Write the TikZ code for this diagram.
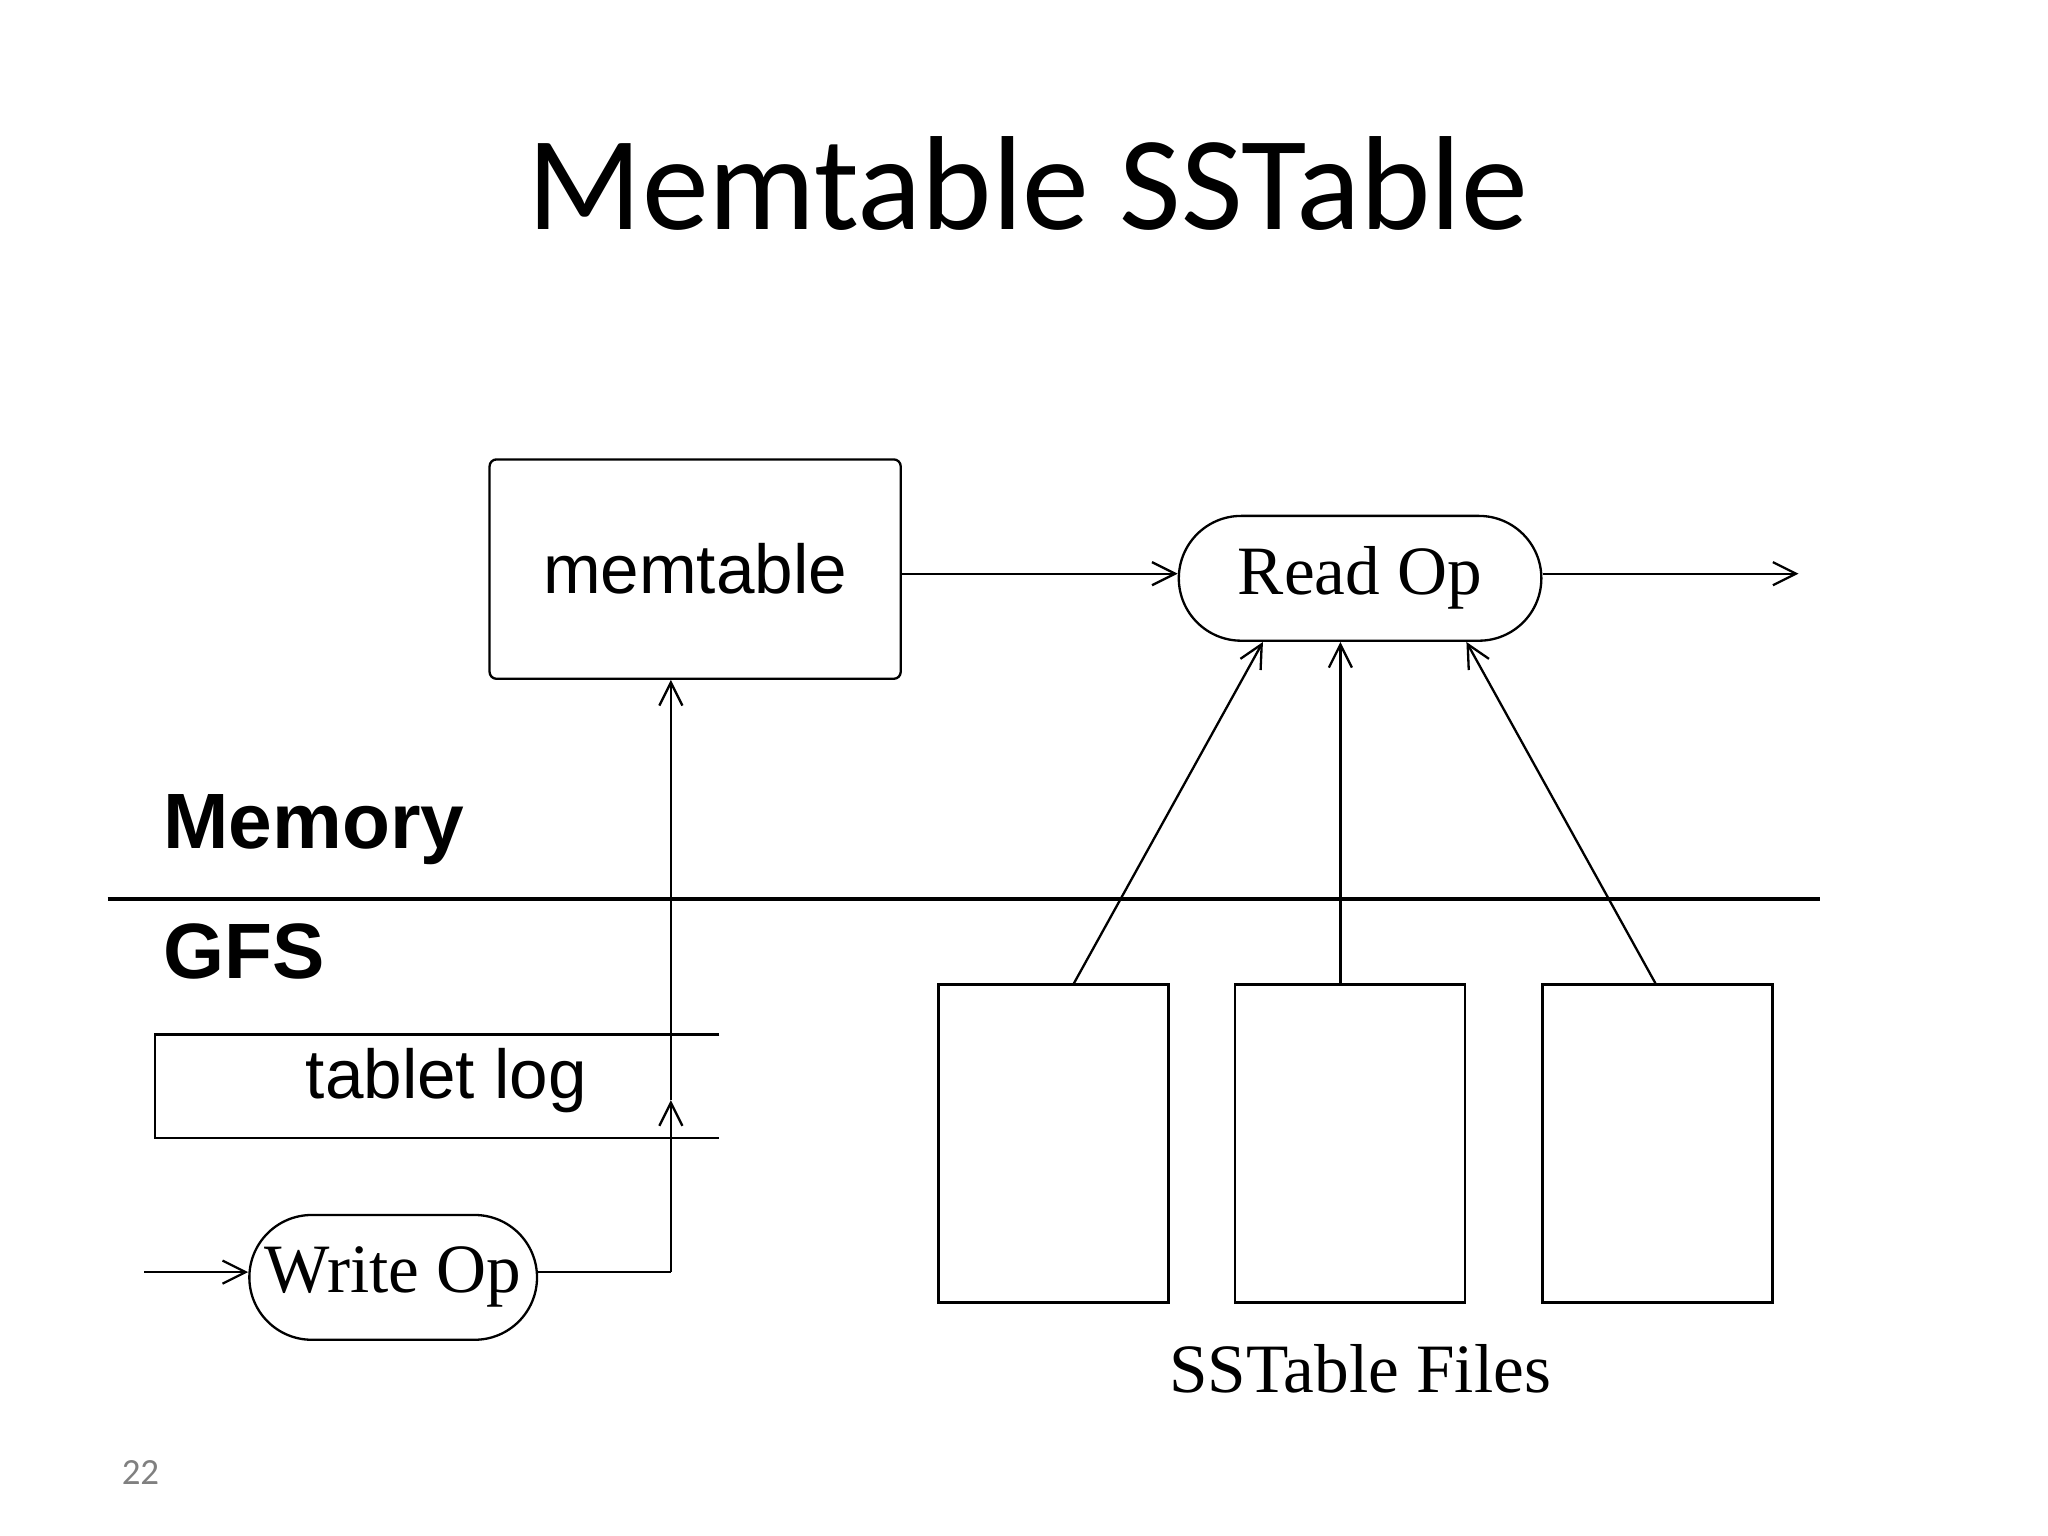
\documentclass[tikz,border=0pt]{standalone}
\usepackage{fontspec}
\setmainfont{Liberation Serif}
\newfontfamily\sansf{Liberation Sans}
\newfontfamily\calib{Carlito}
\usetikzlibrary{arrows.meta,shapes.misc}
\begin{document}
\begin{tikzpicture}[x=0.01cm,y=-0.01cm,
  ln/.style={line width=0.5pt},
  arr/.style={ln,-{Straight Barb[length=5pt,width=5pt,line width=0.5pt]}},
  pill/.style={ln,draw,rounded rectangle,minimum width=#1,minimum height=0.95cm,inner sep=0pt,font=\fontsize{15}{18}\selectfont},
  box/.style={ln,draw,minimum width=1.75cm,minimum height=2.42cm,inner sep=0pt}]
\useasboundingbox (0,0) rectangle (1560,1170);
\node[font=\calib\fontsize{29}{34}\selectfont] (title) at (783,140) {Memtable SSTable};
\node[ln,draw,rounded corners=1.5pt,minimum width=3.13cm,minimum height=1.67cm,font=\sansf\fontsize{15}{18}\selectfont] (mem) at (529.5,433.5) {memtable};
\node[pill=2.76cm] (read) at (1036,440.5) {Read Op};
\node[pill=2.19cm] (write) at (299.5,973) {Write Op};
\coordinate (rout) at (1370,437);
\coordinate (win) at (110,969);
\draw[arr] (mem.east |- 0,437) -- (read.west |- 0,437);
\draw[arr] (read.east |- 0,437) -- (rout);
\draw[arr] (win) -- (write.west |- 0,969);
\node[anchor=west,font=\sansf\bfseries\fontsize{17}{20}\selectfont] (memlbl) at (112,632) {Memory};
\node[anchor=west,font=\sansf\bfseries\fontsize{17}{20}\selectfont] (gfslbl) at (112,725) {GFS};
\draw[line width=0.9pt] (82,685) -- (1386,685);
\draw[ln] (548,788) -- (118,788) -- (118,867) -- (548,867);
\node[font=\sansf\fontsize{15}{18}\selectfont] (tlog) at (340,823) {tablet log};
\coordinate (c1) at (511,969);
\coordinate (c2) at (511,838);
\draw[ln] (write.east |- 0,969) -- (c1);
\draw[arr] (c1) -- (c2);
\draw[arr] (c2) -- (mem.south -| c2);
\node[box] (s1) at (802.5,871) {};
\node[box] (s2) at (1028.5,871) {};
\node[box] (s3) at (1262.5,871) {};
\draw[arr] (s1.north -| 818,0) -- (962,489);
\draw[arr] (s2.north -| 1021,0) -- (1021,489);
\draw[arr] (s3.north -| 1261,0) -- (1117,489);
\node[font=\fontsize{15}{18}\selectfont] (files) at (1036,1043) {SSTable Files};
\node[font=\calib\fontsize{8}{10}\selectfont,text=gray] (pg) at (107,1122) {22};
\end{tikzpicture}
\end{document}
